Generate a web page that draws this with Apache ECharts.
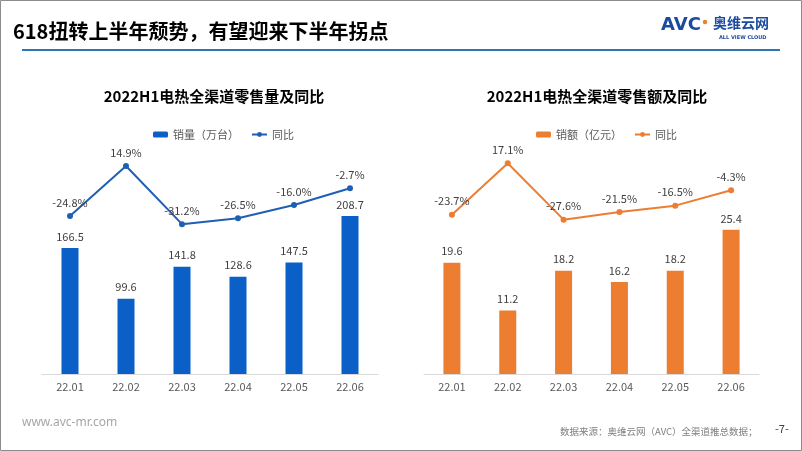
<!DOCTYPE html>
<html><head><meta charset="utf-8">
<script src="https://cdn.jsdelivr.net/npm/echarts@6/dist/echarts.min.js"></script>
<style>html,body{margin:0;padding:0;background:#fff}#c{width:802px;height:451px}</style>
</head><body><div id="c"></div>
<script>
var categories = ['22.01','22.02','22.03','22.04','22.05','22.06'];
var salesVolume = [166.5, 99.6, 141.8, 128.6, 147.5, 208.7];
var volumeYoY = [-24.8, 14.9, -31.2, -26.5, -16.0, -2.7];
var salesAmount = [19.6, 11.2, 18.2, 16.2, 18.2, 25.4];
var amountYoY = [-23.7, 17.1, -27.6, -21.5, -16.5, -4.3];

var FONT = '"Noto Sans CJK SC", "Noto Sans", sans-serif';
var BLUE_BAR = '#0A60C6', BLUE_LINE = '#1F5FB3', ORANGE = '#ED7D31';
var chart = echarts.init(document.getElementById('c'));

function xAx(i){return {type:'category',gridIndex:i,data:categories,
  axisLine:{lineStyle:{color:'#D9D9D9'}},axisTick:{show:false},
  axisLabel:{color:'#595959',fontSize:11,fontFamily:FONT,margin:7}};}
function yAx(i,min,max){return {type:'value',gridIndex:i,min:min,max:max,show:false,splitLine:{show:false}};}
var lblStyle = {color:'#404040',fontSize:11,fontFamily:FONT};

chart.setOption({
  animation:false,
  textStyle:{fontFamily:FONT},
  title:[
    {text:'2022H1电热全渠道零售量及同比',left:209,top:84,textAlign:'center',textStyle:{fontSize:15,fontWeight:'bold',color:'#000',fontFamily:FONT}},
    {text:'2022H1电热全渠道零售额及同比',left:592,top:84,textAlign:'center',textStyle:{fontSize:15,fontWeight:'bold',color:'#000',fontFamily:FONT}}
  ],
  legend:[
    {data:[{name:'销量（万台）'},{name:'同比'}],left:148,top:124,itemWidth:15,itemHeight:6,itemGap:12,
      textStyle:{color:'#595959',fontSize:11,fontFamily:FONT}},
    {data:[{name:'销额（亿元）'},{name:'同比 '}],left:531,top:124,itemWidth:15,itemHeight:6,itemGap:12,
      textStyle:{color:'#595959',fontSize:11,fontFamily:FONT},
      formatter:function(n){return n.trim();}}
  ],
  grid:[
    {left:42,width:336,top:147,height:227},
    {left:424,width:335,top:147,height:227}
  ],
  xAxis:[xAx(0),xAx(1)],
  yAxis:[yAx(0,0,300),yAx(0,-150,30),yAx(1,0,40),yAx(1,-150,30)],
  series:[
    {name:'销量（万台）',type:'bar',xAxisIndex:0,yAxisIndex:0,data:salesVolume,barWidth:17,
      itemStyle:{color:BLUE_BAR},label:{show:true,position:'top',distance:6,formatter:function(p){return p.value.toFixed(1);},...lblStyle}},
    {name:'同比',type:'line',xAxisIndex:0,yAxisIndex:1,data:volumeYoY,symbol:'circle',symbolSize:6,
      lineStyle:{color:BLUE_LINE,width:2},itemStyle:{color:BLUE_LINE},
      label:{show:true,position:'top',distance:5,formatter:function(p){return p.value.toFixed(1)+'%';},...lblStyle}},
    {name:'销额（亿元）',type:'bar',xAxisIndex:1,yAxisIndex:2,data:salesAmount,barWidth:17,
      itemStyle:{color:ORANGE},label:{show:true,position:'top',distance:6,formatter:function(p){return p.value.toFixed(1);},...lblStyle}},
    {name:'同比 ',type:'line',xAxisIndex:1,yAxisIndex:3,data:amountYoY,symbol:'circle',symbolSize:6,
      lineStyle:{color:ORANGE,width:2},itemStyle:{color:ORANGE},
      label:{show:true,position:'top',distance:5,formatter:function(p){return p.value.toFixed(1)+'%';},...lblStyle}}
  ],
  graphic:[
    {type:'rect',shape:{x:0.5,y:0.5,width:801,height:450},style:{fill:'none',stroke:'#8C8C8C',lineWidth:1},silent:true},
    {type:'text',left:13,top:21,style:{text:'618扭转上半年颓势，有望迎来下半年拐点',fontSize:20,fontWeight:'bold',fill:'#000',fontFamily:FONT}},
    {type:'rect',shape:{x:22,y:49,width:758,height:2},style:{fill:'#2E75B6'}},
    {type:'text',left:661,top:16,style:{text:'AVC',fontSize:18,fontWeight:'bold',fill:'#1B4A9E',fontFamily:'"DejaVu Sans", sans-serif'}},
    {type:'circle',shape:{cx:705,cy:22,r:2.2},style:{fill:ORANGE}},
    {type:'text',left:713,top:16,style:{text:'奥维云网',fontSize:14,fontWeight:'bold',fill:'#1B4A9E',fontFamily:FONT}},
    {type:'text',left:719,top:35,style:{text:'ALL VIEW CLOUD',fontSize:5,fontWeight:'bold',fill:'#1B4A9E',fontFamily:'"DejaVu Sans", sans-serif'}},
    {type:'text',left:22,top:417,style:{text:'www.avc-mr.com',fontSize:12,fill:'#A6A6A6',fontFamily:'"Noto Sans", sans-serif'}},
    {type:'text',left:560,top:427,style:{text:'数据来源：奥维云网（AVC）全渠道推总数据；',fontSize:9.5,fill:'#7F7F7F',fontFamily:FONT}},
    {type:'text',left:775,top:423,style:{text:'-7-',fontSize:11,fill:'#404040',fontFamily:FONT}}
  ]
});
</script></body></html>
